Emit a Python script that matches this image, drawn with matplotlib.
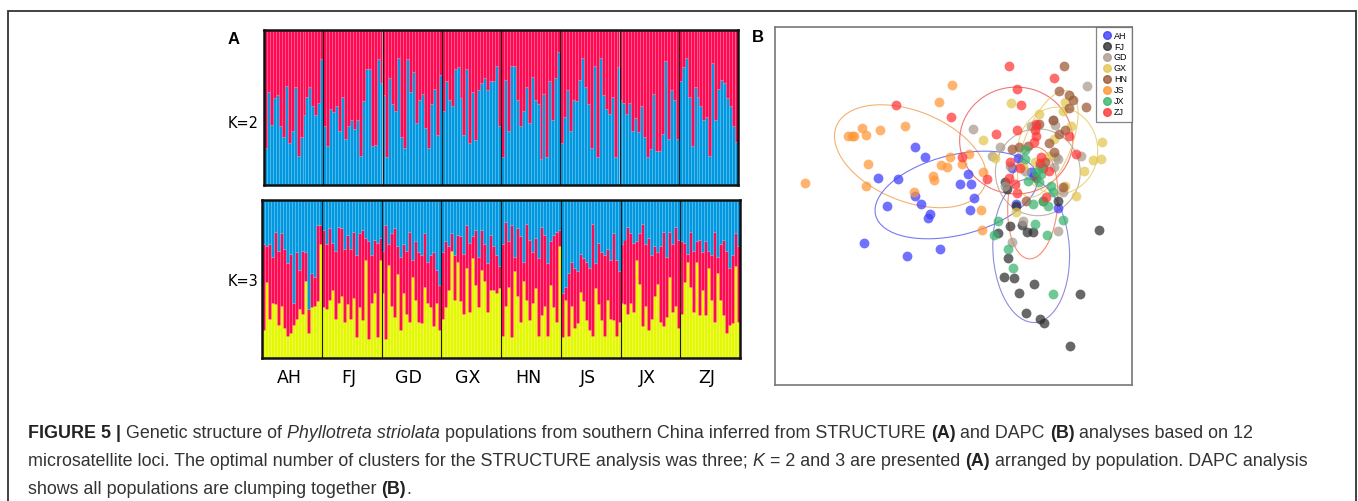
import numpy as np
import matplotlib
matplotlib.use("Agg")
import matplotlib.pyplot as plt
from matplotlib.patches import Ellipse, Rectangle
from matplotlib.lines import Line2D

# ---- data ----
pops = ["AH", "FJ", "GD", "GX", "HN", "JS", "JX", "ZJ"]

# K=2: share of the blue cluster per individual (20 per population)
k2_blue = [
    .24, .60, .39, .56, .58, .38, .31, .64, .27, .35, .63, .19, .31, .45, .57, .63, .51, .45, .53, .81,
    .38, .25, .49, .47, .51, .35, .57, .30, .38, .42, .36, .42, .19, .54, .75, .75, .25, .26, .81, .66,
    .58, .18, .69, .52, .48, .82, .31, .24, .81, .60, .73, .40, .55, .59, .37, .24, .52, .62, .32, .71,
    .48, .67, .55, .51, .75, .76, .56, .32, .75, .27, .60, .29, .61, .66, .69, .61, .67, .67, .77, .38,
    .18, .68, .35, .77, .77, .55, .38, .48, .63, .40, .70, .55, .52, .17, .59, .18, .67, .42, .69, .86,
    .27, .44, .61, .35, .55, .54, .68, .82, .63, .52, .24, .77, .18, .82, .58, .49, .46, .57, .18, .76,
    .55, .53, .46, .53, .35, .43, .34, .51, .31, .18, .23, .59, .22, .22, .33, .80, .30, .61, .55, .30,
    .67, .76, .82, .57, .25, .63, .57, .51, .42, .44, .19, .79, .42, .62, .68, .66, .56, .51, .38, .28,
]

# K=3: yellow share and cumulative yellow+red share (rest is blue)
k3_yellow = [
    .18, .48, .25, .35, .34, .21, .33, .19, .14, .16, .21, .25, .31, .28, .49, .16, .32, .33, .36, .72,
    .32, .31, .37, .43, .25, .35, .39, .23, .34, .25, .38, .13, .32, .24, .62, .12, .35, .41, .13, .62,
    .41, .12, .59, .33, .26, .53, .18, .41, .28, .23, .51, .37, .23, .22, .45, .35, .32, .20, .35, .18,
    .25, .32, .43, .68, .37, .61, .36, .28, .57, .29, .63, .46, .32, .56, .49, .29, .43, .43, .41, .44,
    .14, .33, .45, .13, .55, .39, .23, .49, .37, .24, .35, .44, .14, .27, .33, .14, .46, .32, .23, .71,
    .13, .37, .14, .33, .19, .22, .42, .36, .24, .18, .14, .44, .34, .24, .14, .37, .25, .24, .14, .23,
    .35, .34, .28, .35, .29, .62, .47, .20, .33, .18, .25, .39, .47, .23, .20, .26, .51, .29, .33, .19,
    .28, .48, .61, .45, .29, .61, .27, .43, .27, .57, .37, .23, .54, .37, .27, .16, .21, .22, .58, .23,
]
k3_upper = [
    .72, .71, .72, .64, .80, .68, .79, .69, .60, .66, .35, .67, .56, .68, .67, .31, .54, .51, .84, .84,
    .81, .72, .82, .73, .68, .83, .82, .69, .78, .69, .80, .65, .79, .81, .76, .74, .65, .75, .73, .76,
    .68, .84, .72, .79, .82, .71, .64, .72, .68, .80, .62, .74, .67, .65, .79, .61, .65, .67, .56, .46,
    .67, .74, .71, .79, .65, .78, .77, .66, .84, .73, .77, .81, .64, .81, .72, .60, .78, .71, .65, .58,
    .72, .86, .74, .84, .64, .82, .77, .61, .85, .75, .67, .76, .63, .83, .78, .60, .74, .78, .80, .81,
    .41, .45, .54, .61, .57, .55, .66, .63, .61, .57, .85, .60, .73, .67, .65, .69, .62, .79, .62, .55,
    .72, .75, .83, .79, .73, .74, .79, .85, .72, .76, .65, .71, .67, .71, .80, .64, .80, .72, .83, .75,
    .74, .73, .66, .80, .68, .74, .75, .67, .74, .68, .65, .80, .64, .72, .75, .68, .57, .65, .79, .71,
]

# DAPC scores (arbitrary units)
dapc_AH = [(-1.15, 1.67), (-0.83, 1.37), (-2.25, 0.74), (-1.65, 0.69), (-1.15, 0.20), (-0.95, -0.05),
           (-1.98, -0.10), (-0.70, -0.35), (-0.76, -0.47), (0.45, 0.86), (0.20, 0.55), (0.53, 0.54),
           (0.64, 0.12), (0.52, -0.23), (-2.66, -1.21), (-1.37, -1.62), (-0.39, -1.39), (1.94, 1.34),
           (1.78, 1.02), (2.35, 0.92), (1.88, -0.06), (3.16, -0.18), (2.43, 0.80)]
dapc_FJ = [(1.62, 0.40), (1.88, -0.10), (1.70, -0.72), (2.07, -0.68), (2.23, -0.88), (2.39, -0.88),
           (1.35, -0.93), (1.65, -1.68), (1.52, -2.23), (1.84, -2.26), (2.43, -2.46), (1.99, -2.72),
           (2.18, -3.32), (2.62, -3.50), (2.75, -3.60), (3.53, -4.30), (3.82, -2.75), (4.40, -0.82),
           (3.15, 0.05), (1.55, 0.60)]
dapc_GD = [(0.60, 2.21), (1.18, 1.40), (1.42, 1.65), (2.33, 2.28), (3.01, 2.47), (3.07, 2.32),
           (3.10, 1.35), (3.16, 1.30), (3.05, 1.05), (3.86, 1.40), (2.10, -0.55), (1.78, -1.18),
           (3.16, -0.87), (3.30, 0.30), (1.72, 1.10), (1.55, 0.50), (4.03, 3.47), (2.50, 2.30),
           (2.15, 0.95)]
dapc_GX = [(1.74, 2.96), (0.90, 1.88), (1.25, 1.32), (2.58, 2.63), (3.36, 3.00), (3.30, 2.72),
           (3.55, 2.30), (3.04, 1.90), (4.48, 1.82), (4.46, 1.30), (4.20, 1.27), (3.94, 0.95),
           (3.71, 0.20), (3.36, 0.50), (2.45, 1.20), (1.90, -0.28), (2.10, 1.10), (2.90, 1.40)]
dapc_HN = [(3.35, 4.07), (3.20, 3.34), (3.49, 3.20), (3.60, 3.05), (3.50, 2.82), (4.00, 2.85),
           (3.00, 2.48), (2.58, 2.35), (3.37, 2.17), (3.18, 2.06), (2.88, 1.78), (2.26, 1.70),
           (1.98, 1.67), (1.78, 1.60), (2.77, 1.20), (2.72, 1.02), (3.30, 0.45), (2.50, 0.72),
           (2.20, 0.05), (2.70, 0.05), (3.03, 1.50)]
dapc_JS = [(-0.04, 3.50), (-0.41, 3.01), (-3.15, 1.98), (-3.05, 1.98), (-2.98, 1.98), (-2.75, 2.24),
           (-2.60, 2.01), (-2.19, 2.17), (-1.44, 2.29), (-2.55, 1.14), (-2.62, 0.48), (-4.45, 0.59),
           (-1.18, 0.31), (-0.59, 0.78), (-0.56, 0.67), (-0.37, 1.13), (-0.17, 1.06), (-0.09, 1.37),
           (0.28, 1.16), (0.47, 1.45), (0.90, 0.90), (0.83, -0.23), (0.87, -0.83)]
dapc_JX = [(2.15, 1.58), (2.15, 1.30), (2.25, 0.65), (2.50, 0.90), (2.65, 0.85), (2.58, 0.60),
           (2.95, 0.50), (3.00, 0.30), (2.40, -0.05), (2.85, -0.10), (2.70, 0.05), (1.36, -0.56),
           (1.22, -0.97), (1.65, -1.41), (1.80, -1.98), (2.47, -0.65), (2.82, -0.97), (3.30, -0.53),
           (3.02, -2.76), (2.60, 1.10)]
dapc_ZJ = [(1.67, 4.08), (3.04, 3.72), (1.93, 3.40), (2.04, 2.92), (-1.72, 2.92), (-0.07, 2.57),
           (1.29, 2.06), (1.91, 2.18), (2.50, 2.36), (2.47, 2.18), (2.50, 2.00), (2.43, 1.82),
           (3.49, 2.00), (3.70, 1.46), (1.70, 1.22), (2.02, 1.03), (2.65, 1.35), (2.60, 1.18),
           (2.90, 0.95), (0.27, 1.37), (1.02, 0.70), (1.68, 0.74), (1.85, 0.56), (1.92, 0.28),
           (2.80, 0.15)]
dapc_points = [dapc_AH, dapc_FJ, dapc_GD, dapc_GX, dapc_HN, dapc_JS, dapc_JX, dapc_ZJ]

# inertia ellipses: (centre x, centre y, width, height, angle, colour)
ellipses = [
    (-1.28, 1.38, 4.8, 2.7, -22, "#f4a862"),
    (0.10, 0.22, 5.0, 2.4, 14, "#6a6af0"),
    (1.90, 1.85, 3.4, 3.2, 0, "#f06868"),
    (2.55, 0.90, 2.55, 2.6, 0, "#b8ab9e"),
    (3.15, 1.55, 2.4, 2.6, 0, "#ecd070"),
    (2.85, 1.75, 3.4, 1.4, 68, "#e8cc78"),
    (2.40, -0.02, 1.5, 3.35, -4, "#f88060"),
    (2.35, -1.45, 2.3, 4.3, 3, "#8080d8"),
]

pop_colors = ["#3b3bff", "#2e2e2e", "#a99a8c", "#e2c650", "#9a5634", "#ff9636", "#37b36c", "#ff3535"]
c_red, c_blue, c_yel = "#ff0a52", "#0098e0", "#e4f800"

W, H = 1358, 501
fig = plt.figure(figsize=(W / 100, H / 100), dpi=100)
plt.rcParams["font.family"] = ["Liberation Sans", "DejaVu Sans"]


def rect(x0, y0, x1, y1):
    return [x0 / W, 1 - y1 / H, (x1 - x0) / W, (y1 - y0) / H]


n = len(k2_blue)
xs = np.arange(n)
k2_blue = np.array(k2_blue)
k3_yellow = np.array(k3_yellow)
k3_upper = np.array(k3_upper)
edge = dict(edgecolor=(1, 1, 1, 0.12), linewidth=0.4)

# ---- panel A, K=2 ----
ax1 = fig.add_axes(rect(264, 30, 738, 185))
ax1.bar(xs, k2_blue, width=1, align="edge", color=c_blue, **edge)
ax1.bar(xs, 1 - k2_blue, bottom=k2_blue, width=1, align="edge", color=c_red, **edge)
# ---- panel A, K=3 ----
ax2 = fig.add_axes(rect(262, 200, 740, 358))
ax2.bar(xs, k3_yellow, width=1, align="edge", color=c_yel, **edge)
ax2.bar(xs, k3_upper - k3_yellow, bottom=k3_yellow, width=1, align="edge", color=c_red, **edge)
ax2.bar(xs, 1 - k3_upper, bottom=k3_upper, width=1, align="edge", color=c_blue, **edge)

per = n // len(pops)
for ax in (ax1, ax2):
    ax.set_xlim(0, n)
    ax.set_ylim(0, 1)
    for b in range(per, n, per):
        ax.axvline(b, color="#1a1a1a", lw=0.8)
    for s in ax.spines.values():
        s.set_linewidth(1.8)
        s.set_color("#111111")
    ax.set_yticks([])
    ax.tick_params(length=0)
ax1.set_xticks([])
ax2.set_xticks(np.arange(len(pops)) * per + per / 2 - 1)
ax2.set_xticklabels(pops, fontsize=12.5, family=["DejaVu Sans"])
ax2.tick_params(axis="x", pad=8)

fig.text(243 / W, 1 - 123 / H, "K=2", fontsize=10.5, ha="center", va="center", family=["DejaVu Sans"])
fig.text(243 / W, 1 - 282 / H, "K=3", fontsize=10.5, ha="center", va="center", family=["DejaVu Sans"])
fig.text(234 / W, 1 - 39 / H, "A", fontsize=12, weight="bold", ha="center", va="center")
fig.text(758 / W, 1 - 37 / H, "B", fontsize=12, weight="bold", ha="center", va="center")

# ---- panel B, DAPC ----
ax3 = fig.add_axes(rect(775, 27, 1132, 385))
for (cx, cy, w, h, ang, col) in ellipses:
    ax3.add_patch(Ellipse((cx, cy), w, h, angle=ang, fill=False, edgecolor=col, lw=0.8, alpha=0.9))
for pts, col in zip(dapc_points, pop_colors):
    arr = np.array(pts)
    ax3.scatter(arr[:, 0], arr[:, 1], s=50, color=col, alpha=0.72, linewidths=0)
ax3.set_xlim(-5.35, 5.38)
ax3.set_ylim(-5.47, 5.25)
ax3.set_xticks([])
ax3.set_yticks([])
for s in ax3.spines.values():
    s.set_color("#777777")
    s.set_linewidth(1.2)
handles = [Line2D([], [], marker="o", ls="", color=c, alpha=0.8, markersize=5.5) for c in pop_colors]
leg = ax3.legend(handles, pops, loc="upper right", fontsize=6.5, frameon=True, fancybox=False,
                 borderaxespad=0, borderpad=0.5, handletextpad=0.15, labelspacing=0.22,
                 handlelength=1.3)
leg.get_frame().set_edgecolor("#666666")
leg.get_frame().set_linewidth(0.9)

# ---- outer frame ----
fig.add_artist(Rectangle((8 / W, -0.05), (1356 - 8) / W, 1 - 11 / H + 0.05, transform=fig.transFigure,
                         fill=False, edgecolor="#333333", lw=1.3))

# ---- caption ----
renderer = fig.canvas.get_renderer()
cap_lines = [
    [("FIGURE 5 |", "bold", "normal"), (" Genetic structure of ", "normal", "normal"),
     ("Phyllotreta striolata", "normal", "italic"),
     (" populations from southern China inferred from STRUCTURE ", "normal", "normal"),
     ("(A)", "bold", "normal"), (" and DAPC ", "normal", "normal"), ("(B)", "bold", "normal"),
     (" analyses based on 12", "normal", "normal")],
    [("microsatellite loci. The optimal number of clusters for the STRUCTURE analysis was three; ",
      "normal", "normal"), ("K", "normal", "italic"), (" = 2 and 3 are presented ", "normal", "normal"),
     ("(A)", "bold", "normal"), (" arranged by population. DAPC analysis", "normal", "normal")],
    [("shows all populations are clumping together ", "normal", "normal"), ("(B)", "bold", "normal"),
     (".", "normal", "normal")],
]
baselines = [438, 466, 494]
for runs, yb in zip(cap_lines, baselines):
    x = 28
    for txt, wt, st in runs:
        t = fig.text(x / W, 1 - yb / H, txt, fontsize=12.9, weight=wt, style=st,
                     color="#222222" if wt == "bold" else "#333333", va="baseline", ha="left")
        x += t.get_window_extent(renderer).width

fig.savefig("out.png", dpi=100)
